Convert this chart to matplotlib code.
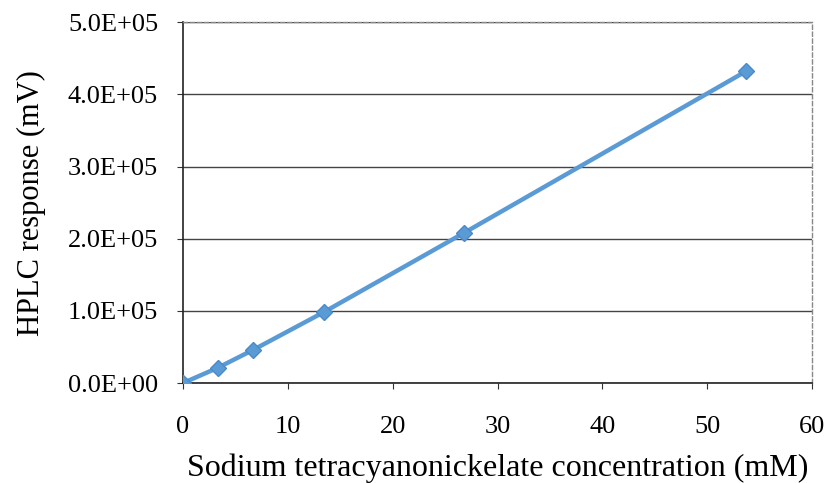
import matplotlib
matplotlib.use("Agg")
import matplotlib.pyplot as plt

conc = [0, 3.3, 6.7, 13.4, 26.8, 53.7]
response = [0, 2.1e4, 4.6e4, 9.8e4, 2.08e5, 4.32e5]
xticks = [0, 10, 20, 30, 40, 50, 60]
yticks = [0, 1e5, 2e5, 3e5, 4e5, 5e5]
ytick_labels = ["0.0E+00", "1.0E+05", "2.0E+05", "3.0E+05", "4.0E+05", "5.0E+05"]

plt.rcParams['font.family'] = ['Liberation Serif', 'DejaVu Serif']

fig = plt.figure(figsize=(8.32, 4.83), dpi=100)
ax = fig.add_axes([0.22, 0.207, 0.756, 0.747])

ax.plot(conc, response, color='#5B9BD5', lw=3.2, marker='D', ms=8.5,
        markerfacecolor='#5B9BD5', markeredgecolor='#4A8AC8', zorder=3)

ax.set_xlim(0, 60)
ax.set_ylim(0, 5e5)
ax.set_xticks(xticks)
ax.set_xticklabels([str(v) for v in xticks])
ax.set_yticks(yticks)
ax.set_yticklabels(ytick_labels)
ax.tick_params(axis='both', labelsize=19, length=4, color='#333333')
ax.tick_params(axis='x', pad=20)
ax.tick_params(axis='y', pad=14)
ax.grid(axis='y', color='#444444', lw=1.0)
ax.set_axisbelow(True)

for s in ['left', 'bottom']:
    ax.spines[s].set_color('#222222')
    ax.spines[s].set_linewidth(1.2)
for s in ['top', 'right']:
    ax.spines[s].set_color('#888888')
    ax.spines[s].set_linewidth(1.0)
    ax.spines[s].set_linestyle((0, (3, 2)))

ax.set_xlabel("Sodium tetracyanonickelate concentration (mM)", fontsize=23, labelpad=11)
ax.set_ylabel("HPLC response (mV)", fontsize=22, labelpad=16)

fig.savefig("out.png", dpi=100)
